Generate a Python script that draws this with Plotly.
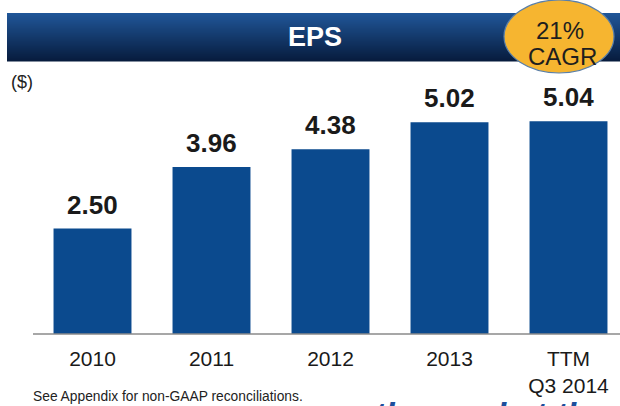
import plotly.graph_objects as go

# EPS by period
categories = ["2010", "2011", "2012", "2013", "TTM<br>Q3 2014"]
eps = [2.50, 3.96, 4.38, 5.02, 5.04]
eps_labels = ["2.50", "3.96", "4.38", "5.02", "5.04"]

W, H = 620, 406
BAR = "#0b4a8e"
FONT = "Liberation Sans, Arial, sans-serif"


def px_x(x):
    return x / W


def px_y(y):
    return 1 - y / H


positions = list(range(len(categories)))

fig = go.Figure(
    go.Bar(
        x=positions,
        y=eps,
        width=0.655,
        marker=dict(color=BAR, line=dict(width=0)),
        hoverinfo="skip",
    )
)

shapes = []
# header banner: vertical gradient built from thin stripes
top_c = (32, 86, 152)
bot_c = (7, 28, 62)
y0, y1 = 13, 61
n = 48
for i in range(n):
    t = i / (n - 1)
    c = tuple(round(top_c[k] + (bot_c[k] - top_c[k]) * t) for k in range(3))
    ya = y0 + (y1 - y0) * i / n
    yb = y0 + (y1 - y0) * (i + 1) / n + 0.6
    shapes.append(dict(
        type="rect", xref="paper", yref="paper",
        x0=px_x(7), x1=1.0, y0=px_y(yb), y1=px_y(ya),
        fillcolor="rgb(%d,%d,%d)" % c, line=dict(width=0), layer="below",
    ))

# CAGR badge
shapes.append(dict(
    type="circle", xref="paper", yref="paper",
    x0=px_x(504), x1=px_x(614), y0=px_y(73), y1=px_y(0),
    fillcolor="#f6b530", line=dict(color="#5a7fa8", width=1.2),
))

# baseline
shapes.append(dict(
    type="line", xref="paper", yref="paper",
    x0=px_x(33), x1=1.0, y0=px_y(334), y1=px_y(334),
    line=dict(color="#8a8a8a", width=1.3),
))


def paper_text(text, x, y, size, color, xanchor="center", yanchor="middle", bold=False):
    return dict(
        text=("<b>%s</b>" % text) if bold else text,
        x=px_x(x), y=px_y(y), xref="paper", yref="paper",
        xanchor=xanchor, yanchor=yanchor, showarrow=False,
        font=dict(family=FONT, size=size, color=color),
    )


annotations = [
    paper_text("EPS", 315, 37, 27, "white", bold=True),
    paper_text("21%", 560, 30, 24, "#1e1e1e"),
    paper_text("CAGR", 562, 56, 24, "#1e1e1e"),
    paper_text("($)", 9, 82, 18, "#222", xanchor="left"),
    paper_text("See Appendix for non-GAAP reconciliations.", 31, 396, 13.8, "#222", xanchor="left"),
    dict(text="<b><i>the market th</i></b>", x=px_x(372), y=px_y(393), xref="paper", yref="paper",
         xanchor="left", yanchor="top", showarrow=False,
         font=dict(family=FONT, size=34, color="#1d4f9c")),
]

# value labels on top of each bar
for pos, val, lab in zip(positions, eps, eps_labels):
    annotations.append(dict(
        x=pos, y=val, xref="x", yref="y", text="<b>%s</b>" % lab,
        xanchor="center", yanchor="bottom", yshift=7, showarrow=False,
        font=dict(family=FONT, size=26, color="#1a1a1a"),
    ))

fig.update_layout(
    width=W, height=H,
    margin=dict(l=0, r=0, t=0, b=0, autoexpand=False),
    paper_bgcolor="white", plot_bgcolor="white",
    showlegend=False,
    shapes=shapes,
    annotations=annotations,
    xaxis=dict(
        domain=[px_x(33), 1.0],
        range=[-0.5, -0.5 + 587 / 119],
        tickmode="array", tickvals=positions, ticktext=categories,
        ticklabelstandoff=10,
        showgrid=False, showline=False, zeroline=False, ticks="",
        tickfont=dict(family=FONT, size=21, color="#1a1a1a"),
        fixedrange=True, automargin=False,
    ),
    yaxis=dict(
        domain=[px_y(334), px_y(80)],
        range=[0, 254 / 42.2],
        visible=False, fixedrange=True,
    ),
)

fig.write_html("out.html")
